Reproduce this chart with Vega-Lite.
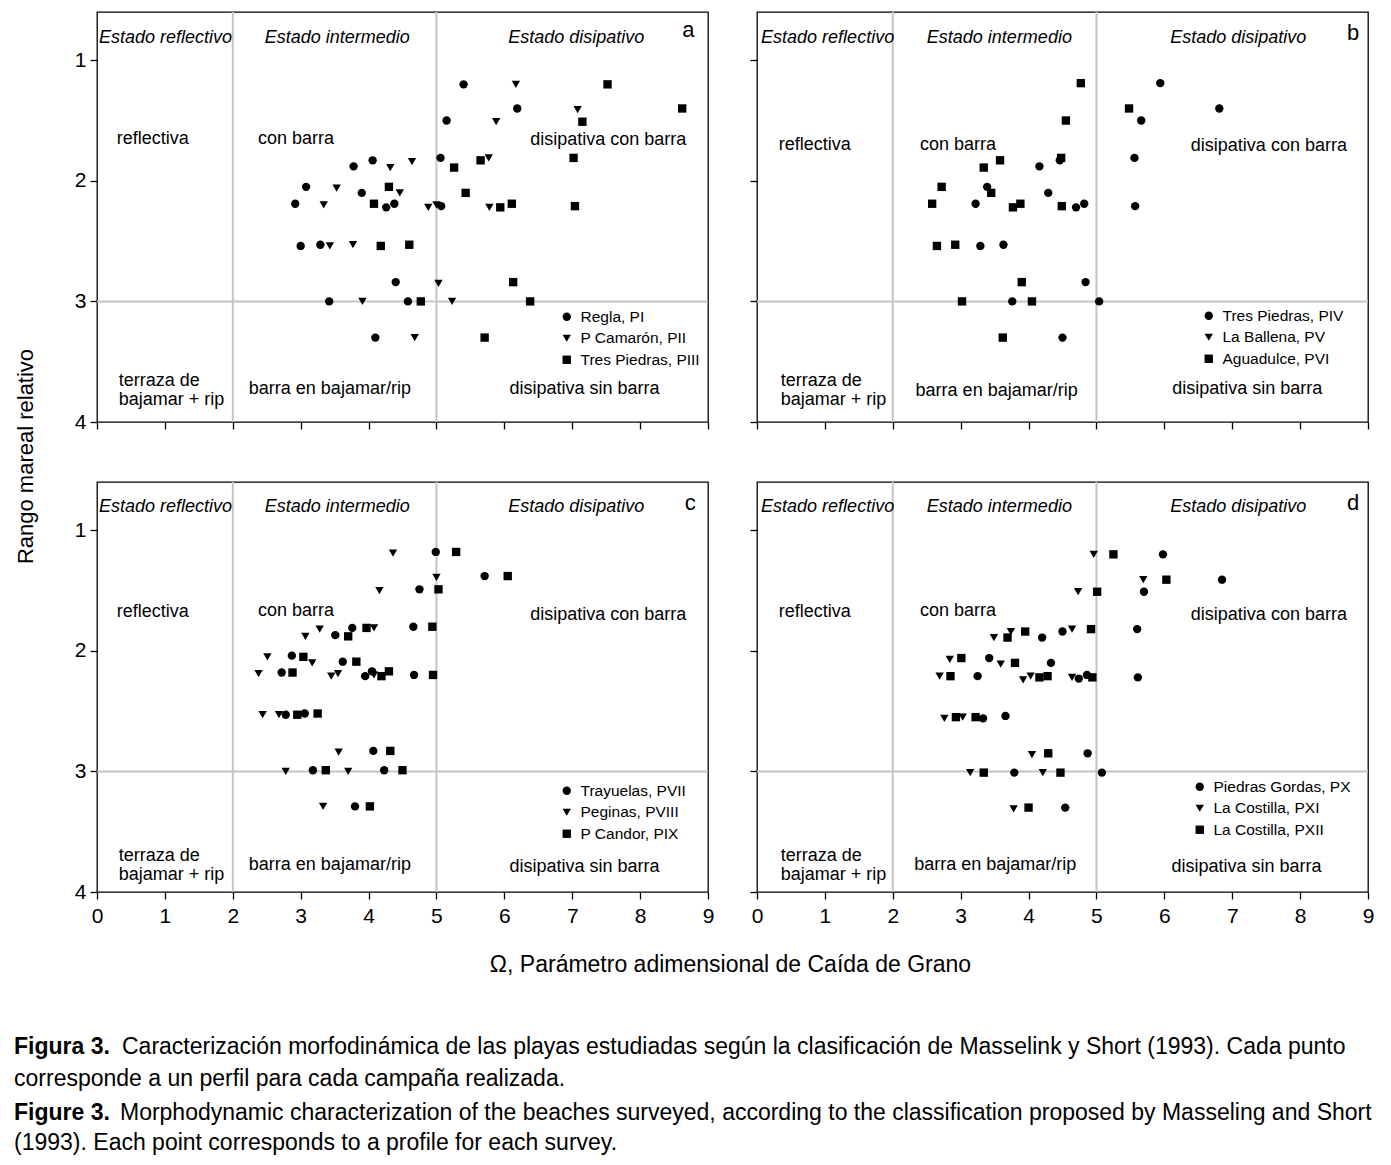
{
"$schema": "https://vega.github.io/schema/vega-lite/v6.json",
"padding": {"left": 13, "top": 10, "right": 5, "bottom": 5},
"datasets": {
"pts": [
{"p":"a","s":"Regla, PI","x":5.40,"y":1.20},{"p":"a","s":"Regla, PI","x":6.19,"y":1.40},{"p":"a","s":"Regla, PI","x":5.15,"y":1.50},{"p":"a","s":"Regla, PI","x":4.06,"y":1.83},{"p":"a","s":"Regla, PI","x":3.78,"y":1.88},{"p":"a","s":"Regla, PI","x":5.06,"y":1.81},{"p":"a","s":"Regla, PI","x":3.08,"y":2.05},{"p":"a","s":"Regla, PI","x":3.90,"y":2.10},{"p":"a","s":"Regla, PI","x":2.92,"y":2.19},{"p":"a","s":"Regla, PI","x":4.26,"y":2.22},{"p":"a","s":"Regla, PI","x":4.38,"y":2.19},{"p":"a","s":"Regla, PI","x":5.07,"y":2.21},{"p":"a","s":"Regla, PI","x":3.00,"y":2.54},{"p":"a","s":"Regla, PI","x":3.29,"y":2.53},{"p":"a","s":"Regla, PI","x":4.40,"y":2.84},{"p":"a","s":"Regla, PI","x":3.42,"y":3.00},{"p":"a","s":"Regla, PI","x":4.58,"y":3.00},{"p":"a","s":"Regla, PI","x":4.10,"y":3.30},
{"p":"a","s":"P Camarón, PII","x":6.17,"y":1.20},{"p":"a","s":"P Camarón, PII","x":7.08,"y":1.41},{"p":"a","s":"P Camarón, PII","x":5.88,"y":1.51},{"p":"a","s":"P Camarón, PII","x":4.64,"y":1.84},{"p":"a","s":"P Camarón, PII","x":4.32,"y":1.89},{"p":"a","s":"P Camarón, PII","x":5.77,"y":1.81},{"p":"a","s":"P Camarón, PII","x":3.53,"y":2.06},{"p":"a","s":"P Camarón, PII","x":4.46,"y":2.10},{"p":"a","s":"P Camarón, PII","x":3.34,"y":2.20},{"p":"a","s":"P Camarón, PII","x":4.88,"y":2.22},{"p":"a","s":"P Camarón, PII","x":5.00,"y":2.20},{"p":"a","s":"P Camarón, PII","x":5.78,"y":2.22},{"p":"a","s":"P Camarón, PII","x":3.43,"y":2.54},{"p":"a","s":"P Camarón, PII","x":3.77,"y":2.53},{"p":"a","s":"P Camarón, PII","x":5.03,"y":2.85},{"p":"a","s":"P Camarón, PII","x":3.91,"y":3.00},{"p":"a","s":"P Camarón, PII","x":5.23,"y":3.00},{"p":"a","s":"P Camarón, PII","x":4.68,"y":3.30},
{"p":"a","s":"Tres Piedras, PIII","x":7.52,"y":1.20},{"p":"a","s":"Tres Piedras, PIII","x":8.62,"y":1.40},{"p":"a","s":"Tres Piedras, PIII","x":7.15,"y":1.51},{"p":"a","s":"Tres Piedras, PIII","x":5.65,"y":1.83},{"p":"a","s":"Tres Piedras, PIII","x":5.26,"y":1.89},{"p":"a","s":"Tres Piedras, PIII","x":7.02,"y":1.81},{"p":"a","s":"Tres Piedras, PIII","x":4.30,"y":2.05},{"p":"a","s":"Tres Piedras, PIII","x":5.43,"y":2.10},{"p":"a","s":"Tres Piedras, PIII","x":4.08,"y":2.19},{"p":"a","s":"Tres Piedras, PIII","x":5.94,"y":2.22},{"p":"a","s":"Tres Piedras, PIII","x":6.11,"y":2.19},{"p":"a","s":"Tres Piedras, PIII","x":7.04,"y":2.21},{"p":"a","s":"Tres Piedras, PIII","x":4.18,"y":2.54},{"p":"a","s":"Tres Piedras, PIII","x":4.60,"y":2.53},{"p":"a","s":"Tres Piedras, PIII","x":6.13,"y":2.84},{"p":"a","s":"Tres Piedras, PIII","x":4.77,"y":3.00},{"p":"a","s":"Tres Piedras, PIII","x":6.38,"y":3.00},{"p":"a","s":"Tres Piedras, PIII","x":5.71,"y":3.30},
{"p":"b","s":"Tres Piedras, PIV","x":5.94,"y":1.19},{"p":"b","s":"Tres Piedras, PIV","x":6.81,"y":1.40},{"p":"b","s":"Tres Piedras, PIV","x":5.66,"y":1.50},{"p":"b","s":"Tres Piedras, PIV","x":4.16,"y":1.88},{"p":"b","s":"Tres Piedras, PIV","x":4.46,"y":1.83},{"p":"b","s":"Tres Piedras, PIV","x":5.56,"y":1.81},{"p":"b","s":"Tres Piedras, PIV","x":3.39,"y":2.05},{"p":"b","s":"Tres Piedras, PIV","x":4.29,"y":2.10},{"p":"b","s":"Tres Piedras, PIV","x":3.22,"y":2.19},{"p":"b","s":"Tres Piedras, PIV","x":4.70,"y":2.22},{"p":"b","s":"Tres Piedras, PIV","x":4.82,"y":2.19},{"p":"b","s":"Tres Piedras, PIV","x":5.57,"y":2.21},{"p":"b","s":"Tres Piedras, PIV","x":3.29,"y":2.54},{"p":"b","s":"Tres Piedras, PIV","x":3.63,"y":2.53},{"p":"b","s":"Tres Piedras, PIV","x":4.84,"y":2.84},{"p":"b","s":"Tres Piedras, PIV","x":3.76,"y":3.00},{"p":"b","s":"Tres Piedras, PIV","x":5.04,"y":3.00},{"p":"b","s":"Tres Piedras, PIV","x":4.50,"y":3.30},
{"p":"b","s":"Aguadulce, PVI","x":4.77,"y":1.19},{"p":"b","s":"Aguadulce, PVI","x":5.48,"y":1.40},{"p":"b","s":"Aguadulce, PVI","x":4.55,"y":1.50},{"p":"b","s":"Aguadulce, PVI","x":3.58,"y":1.83},{"p":"b","s":"Aguadulce, PVI","x":3.34,"y":1.89},{"p":"b","s":"Aguadulce, PVI","x":4.48,"y":1.81},{"p":"b","s":"Aguadulce, PVI","x":2.72,"y":2.05},{"p":"b","s":"Aguadulce, PVI","x":3.45,"y":2.10},{"p":"b","s":"Aguadulce, PVI","x":2.58,"y":2.19},{"p":"b","s":"Aguadulce, PVI","x":3.77,"y":2.22},{"p":"b","s":"Aguadulce, PVI","x":3.88,"y":2.19},{"p":"b","s":"Aguadulce, PVI","x":4.49,"y":2.21},{"p":"b","s":"Aguadulce, PVI","x":2.65,"y":2.54},{"p":"b","s":"Aguadulce, PVI","x":2.92,"y":2.53},{"p":"b","s":"Aguadulce, PVI","x":3.90,"y":2.84},{"p":"b","s":"Aguadulce, PVI","x":3.02,"y":3.00},{"p":"b","s":"Aguadulce, PVI","x":4.05,"y":3.00},{"p":"b","s":"Aguadulce, PVI","x":3.62,"y":3.30},
{"p":"c","s":"Trayuelas, PVII","x":4.99,"y":1.18},{"p":"c","s":"Trayuelas, PVII","x":5.71,"y":1.38},{"p":"c","s":"Trayuelas, PVII","x":4.75,"y":1.49},{"p":"c","s":"Trayuelas, PVII","x":3.76,"y":1.81},{"p":"c","s":"Trayuelas, PVII","x":3.51,"y":1.87},{"p":"c","s":"Trayuelas, PVII","x":4.66,"y":1.80},{"p":"c","s":"Trayuelas, PVII","x":2.87,"y":2.04},{"p":"c","s":"Trayuelas, PVII","x":3.62,"y":2.09},{"p":"c","s":"Trayuelas, PVII","x":2.72,"y":2.18},{"p":"c","s":"Trayuelas, PVII","x":3.95,"y":2.21},{"p":"c","s":"Trayuelas, PVII","x":4.05,"y":2.17},{"p":"c","s":"Trayuelas, PVII","x":4.67,"y":2.20},{"p":"c","s":"Trayuelas, PVII","x":2.78,"y":2.53},{"p":"c","s":"Trayuelas, PVII","x":3.06,"y":2.52},{"p":"c","s":"Trayuelas, PVII","x":4.07,"y":2.83},{"p":"c","s":"Trayuelas, PVII","x":3.18,"y":2.99},{"p":"c","s":"Trayuelas, PVII","x":4.23,"y":2.99},{"p":"c","s":"Trayuelas, PVII","x":3.80,"y":3.29},
{"p":"c","s":"Peginas, PVIII","x":4.36,"y":1.19},{"p":"c","s":"Peginas, PVIII","x":5.00,"y":1.39},{"p":"c","s":"Peginas, PVIII","x":4.16,"y":1.50},{"p":"c","s":"Peginas, PVIII","x":3.28,"y":1.82},{"p":"c","s":"Peginas, PVIII","x":3.07,"y":1.88},{"p":"c","s":"Peginas, PVIII","x":4.08,"y":1.81},{"p":"c","s":"Peginas, PVIII","x":2.51,"y":2.05},{"p":"c","s":"Peginas, PVIII","x":3.17,"y":2.10},{"p":"c","s":"Peginas, PVIII","x":2.38,"y":2.19},{"p":"c","s":"Peginas, PVIII","x":3.45,"y":2.21},{"p":"c","s":"Peginas, PVIII","x":3.55,"y":2.19},{"p":"c","s":"Peginas, PVIII","x":4.08,"y":2.20},{"p":"c","s":"Peginas, PVIII","x":2.44,"y":2.53},{"p":"c","s":"Peginas, PVIII","x":2.68,"y":2.53},{"p":"c","s":"Peginas, PVIII","x":3.56,"y":2.84},{"p":"c","s":"Peginas, PVIII","x":2.78,"y":3.00},{"p":"c","s":"Peginas, PVIII","x":3.70,"y":3.00},{"p":"c","s":"Peginas, PVIII","x":3.33,"y":3.29},
{"p":"c","s":"P Candor, PIX","x":5.29,"y":1.18},{"p":"c","s":"P Candor, PIX","x":6.05,"y":1.38},{"p":"c","s":"P Candor, PIX","x":5.03,"y":1.49},{"p":"c","s":"P Candor, PIX","x":3.97,"y":1.81},{"p":"c","s":"P Candor, PIX","x":3.70,"y":1.88},{"p":"c","s":"P Candor, PIX","x":4.94,"y":1.80},{"p":"c","s":"P Candor, PIX","x":3.04,"y":2.05},{"p":"c","s":"P Candor, PIX","x":3.82,"y":2.09},{"p":"c","s":"P Candor, PIX","x":2.88,"y":2.18},{"p":"c","s":"P Candor, PIX","x":4.19,"y":2.21},{"p":"c","s":"P Candor, PIX","x":4.30,"y":2.17},{"p":"c","s":"P Candor, PIX","x":4.95,"y":2.20},{"p":"c","s":"P Candor, PIX","x":2.95,"y":2.53},{"p":"c","s":"P Candor, PIX","x":3.25,"y":2.52},{"p":"c","s":"P Candor, PIX","x":4.32,"y":2.83},{"p":"c","s":"P Candor, PIX","x":3.37,"y":2.99},{"p":"c","s":"P Candor, PIX","x":4.50,"y":2.99},{"p":"c","s":"P Candor, PIX","x":4.02,"y":3.29},
{"p":"d","s":"Piedras Gordas, PX","x":5.98,"y":1.20},{"p":"d","s":"Piedras Gordas, PX","x":6.85,"y":1.41},{"p":"d","s":"Piedras Gordas, PX","x":5.70,"y":1.51},{"p":"d","s":"Piedras Gordas, PX","x":4.20,"y":1.89},{"p":"d","s":"Piedras Gordas, PX","x":4.50,"y":1.84},{"p":"d","s":"Piedras Gordas, PX","x":5.60,"y":1.82},{"p":"d","s":"Piedras Gordas, PX","x":3.42,"y":2.06},{"p":"d","s":"Piedras Gordas, PX","x":4.33,"y":2.10},{"p":"d","s":"Piedras Gordas, PX","x":3.25,"y":2.21},{"p":"d","s":"Piedras Gordas, PX","x":4.74,"y":2.23},{"p":"d","s":"Piedras Gordas, PX","x":4.86,"y":2.20},{"p":"d","s":"Piedras Gordas, PX","x":5.61,"y":2.22},{"p":"d","s":"Piedras Gordas, PX","x":3.33,"y":2.56},{"p":"d","s":"Piedras Gordas, PX","x":3.66,"y":2.54},{"p":"d","s":"Piedras Gordas, PX","x":4.87,"y":2.85},{"p":"d","s":"Piedras Gordas, PX","x":3.79,"y":3.01},{"p":"d","s":"Piedras Gordas, PX","x":5.08,"y":3.01},{"p":"d","s":"Piedras Gordas, PX","x":4.54,"y":3.30},
{"p":"d","s":"La Costilla, PXI","x":4.96,"y":1.20},{"p":"d","s":"La Costilla, PXI","x":5.69,"y":1.41},{"p":"d","s":"La Costilla, PXI","x":4.73,"y":1.51},{"p":"d","s":"La Costilla, PXI","x":3.49,"y":1.89},{"p":"d","s":"La Costilla, PXI","x":3.74,"y":1.84},{"p":"d","s":"La Costilla, PXI","x":4.64,"y":1.82},{"p":"d","s":"La Costilla, PXI","x":2.84,"y":2.07},{"p":"d","s":"La Costilla, PXI","x":3.59,"y":2.11},{"p":"d","s":"La Costilla, PXI","x":2.69,"y":2.21},{"p":"d","s":"La Costilla, PXI","x":3.92,"y":2.24},{"p":"d","s":"La Costilla, PXI","x":4.03,"y":2.21},{"p":"d","s":"La Costilla, PXI","x":4.64,"y":2.22},{"p":"d","s":"La Costilla, PXI","x":2.76,"y":2.56},{"p":"d","s":"La Costilla, PXI","x":3.03,"y":2.55},{"p":"d","s":"La Costilla, PXI","x":4.05,"y":2.86},{"p":"d","s":"La Costilla, PXI","x":3.14,"y":3.01},{"p":"d","s":"La Costilla, PXI","x":4.21,"y":3.01},{"p":"d","s":"La Costilla, PXI","x":3.78,"y":3.31},
{"p":"d","s":"La Costilla, PXII","x":5.25,"y":1.20},{"p":"d","s":"La Costilla, PXII","x":6.03,"y":1.41},{"p":"d","s":"La Costilla, PXII","x":5.01,"y":1.51},{"p":"d","s":"La Costilla, PXII","x":3.69,"y":1.89},{"p":"d","s":"La Costilla, PXII","x":3.95,"y":1.84},{"p":"d","s":"La Costilla, PXII","x":4.92,"y":1.82},{"p":"d","s":"La Costilla, PXII","x":3.01,"y":2.06},{"p":"d","s":"La Costilla, PXII","x":3.80,"y":2.10},{"p":"d","s":"La Costilla, PXII","x":2.85,"y":2.21},{"p":"d","s":"La Costilla, PXII","x":4.16,"y":2.22},{"p":"d","s":"La Costilla, PXII","x":4.28,"y":2.21},{"p":"d","s":"La Costilla, PXII","x":4.94,"y":2.22},{"p":"d","s":"La Costilla, PXII","x":2.93,"y":2.55},{"p":"d","s":"La Costilla, PXII","x":3.22,"y":2.55},{"p":"d","s":"La Costilla, PXII","x":4.29,"y":2.85},{"p":"d","s":"La Costilla, PXII","x":3.34,"y":3.01},{"p":"d","s":"La Costilla, PXII","x":4.47,"y":3.01},{"p":"d","s":"La Costilla, PXII","x":4.00,"y":3.30}
]
},
"concat": [
{
"width": 611, "height": 410,
"data": {"values": [{}]},
"layer": [
{"mark": {"type": "rule", "color": "#c4c4c4", "strokeWidth": 2}, "encoding": {"x": {"datum": 2, "type": "quantitative"}}},
{"mark": {"type": "rule", "color": "#c4c4c4", "strokeWidth": 2}, "encoding": {"x": {"datum": 5, "type": "quantitative"}}},
{"mark": {"type": "rule", "color": "#c4c4c4", "strokeWidth": 2}, "encoding": {"y": {"datum": 3, "type": "quantitative"}}},
{"mark": {"type": "text", "fontSize": 18, "fontStyle": "italic"}, "encoding": {"x": {"datum": 1.01}, "y": {"datum": 0.815}, "text": {"value": "Estado reflectivo"}}},
{"mark": {"type": "text", "fontSize": 18, "fontStyle": "italic"}, "encoding": {"x": {"datum": 3.54}, "y": {"datum": 0.815}, "text": {"value": "Estado intermedio"}}},
{"mark": {"type": "text", "fontSize": 18, "fontStyle": "italic"}, "encoding": {"x": {"datum": 7.06}, "y": {"datum": 0.815}, "text": {"value": "Estado disipativo"}}},
{"mark": {"type": "text", "fontSize": 22}, "encoding": {"x": {"datum": 8.71}, "y": {"datum": 0.75}, "text": {"value": "a"}}},
{"mark": {"type": "text", "fontSize": 18}, "encoding": {"x": {"datum": 0.82}, "y": {"datum": 1.65}, "text": {"value": "reflectiva"}}},
{"mark": {"type": "text", "fontSize": 18}, "encoding": {"x": {"datum": 2.93}, "y": {"datum": 1.65}, "text": {"value": "con barra"}}},
{"mark": {"type": "text", "fontSize": 18}, "encoding": {"x": {"datum": 7.53}, "y": {"datum": 1.66}, "text": {"value": "disipativa con barra"}}},
{"mark": {"type": "text", "fontSize": 18, "align": "left", "lineHeight": 19}, "encoding": {"x": {"datum": 0.32}, "y": {"datum": 3.66}, "text": {"value": ["terraza de", "bajamar + rip"]}}},
{"mark": {"type": "text", "fontSize": 18}, "encoding": {"x": {"datum": 3.43}, "y": {"datum": 3.73}, "text": {"value": "barra en bajamar/rip"}}},
{"mark": {"type": "text", "fontSize": 18}, "encoding": {"x": {"datum": 7.18}, "y": {"datum": 3.73}, "text": {"value": "disipativa sin barra"}}},
{"data": {"name": "pts"}, "transform": [{"filter": "datum.p == 'a'"}],
 "mark": {"type": "point", "filled": true, "color": "black", "opacity": 1, "size": 70},
 "encoding": {
  "x": {"field": "x", "type": "quantitative", "scale": {"domain": [0, 9], "nice": false, "zero": false}, "axis": {"values": [0,1,2,3,4,5,6,7,8,9], "labels": false, "title": null}},
  "y": {"field": "y", "type": "quantitative", "scale": {"domain": [0.6, 4], "nice": false, "zero": false, "reverse": true}, "axis": {"values": [1,2,3,4], "format": "d", "labelFontSize": 21, "title": "Rango mareal relativo", "titleFontSize": 22, "titleFontWeight": "normal", "titleX": -72, "titleY": 444, "titleAngle": 270, "titleAlign": "center", "titleBaseline": "middle"}},
  "shape": {"field": "s", "type": "nominal", "scale": {"domain": ["Regla, PI", "P Camarón, PII", "Tres Piedras, PIII"], "range": ["circle", "triangle-down", "square"]}, "legend": {"title": null, "orient": "none", "legendX": 462, "legendY": 297}}
 }}
]
},
{
"width": 611, "height": 410,
"data": {"values": [{}]},
"layer": [
{"mark": {"type": "rule", "color": "#c4c4c4", "strokeWidth": 2}, "encoding": {"x": {"datum": 2, "type": "quantitative"}}},
{"mark": {"type": "rule", "color": "#c4c4c4", "strokeWidth": 2}, "encoding": {"x": {"datum": 5, "type": "quantitative"}}},
{"mark": {"type": "rule", "color": "#c4c4c4", "strokeWidth": 2}, "encoding": {"y": {"datum": 3, "type": "quantitative"}}},
{"mark": {"type": "text", "fontSize": 18, "fontStyle": "italic"}, "encoding": {"x": {"datum": 1.04}, "y": {"datum": 0.815}, "text": {"value": "Estado reflectivo"}}},
{"mark": {"type": "text", "fontSize": 18, "fontStyle": "italic"}, "encoding": {"x": {"datum": 3.57}, "y": {"datum": 0.815}, "text": {"value": "Estado intermedio"}}},
{"mark": {"type": "text", "fontSize": 18, "fontStyle": "italic"}, "encoding": {"x": {"datum": 7.09}, "y": {"datum": 0.815}, "text": {"value": "Estado disipativo"}}},
{"mark": {"type": "text", "fontSize": 22}, "encoding": {"x": {"datum": 8.78}, "y": {"datum": 0.77}, "text": {"value": "b"}}},
{"mark": {"type": "text", "fontSize": 18}, "encoding": {"x": {"datum": 0.85}, "y": {"datum": 1.70}, "text": {"value": "reflectiva"}}},
{"mark": {"type": "text", "fontSize": 18}, "encoding": {"x": {"datum": 2.96}, "y": {"datum": 1.70}, "text": {"value": "con barra"}}},
{"mark": {"type": "text", "fontSize": 18}, "encoding": {"x": {"datum": 7.54}, "y": {"datum": 1.71}, "text": {"value": "disipativa con barra"}}},
{"mark": {"type": "text", "fontSize": 18, "align": "left", "lineHeight": 19}, "encoding": {"x": {"datum": 0.35}, "y": {"datum": 3.66}, "text": {"value": ["terraza de", "bajamar + rip"]}}},
{"mark": {"type": "text", "fontSize": 18}, "encoding": {"x": {"datum": 3.53}, "y": {"datum": 3.74}, "text": {"value": "barra en bajamar/rip"}}},
{"mark": {"type": "text", "fontSize": 18}, "encoding": {"x": {"datum": 7.22}, "y": {"datum": 3.73}, "text": {"value": "disipativa sin barra"}}},
{"data": {"name": "pts"}, "transform": [{"filter": "datum.p == 'b'"}],
 "mark": {"type": "point", "filled": true, "color": "black", "opacity": 1, "size": 70},
 "encoding": {
  "x": {"field": "x", "type": "quantitative", "scale": {"domain": [0, 9], "nice": false, "zero": false}, "axis": {"values": [0,1,2,3,4,5,6,7,8,9], "labels": false, "title": null}},
  "y": {"field": "y", "type": "quantitative", "scale": {"domain": [0.6, 4], "nice": false, "zero": false, "reverse": true}, "axis": {"values": [1,2,3,4], "labels": false, "title": null}},
  "shape": {"field": "s", "type": "nominal", "scale": {"domain": ["Tres Piedras, PIV", "La Ballena, PV", "Aguadulce, PVI"], "range": ["circle", "triangle-down", "square"]}, "legend": {"title": null, "orient": "none", "legendX": 444, "legendY": 296}}
 }}
]
},
{
"width": 611, "height": 410,
"data": {"values": [{}]},
"layer": [
{"mark": {"type": "rule", "color": "#c4c4c4", "strokeWidth": 2}, "encoding": {"x": {"datum": 2, "type": "quantitative"}}},
{"mark": {"type": "rule", "color": "#c4c4c4", "strokeWidth": 2}, "encoding": {"x": {"datum": 5, "type": "quantitative"}}},
{"mark": {"type": "rule", "color": "#c4c4c4", "strokeWidth": 2}, "encoding": {"y": {"datum": 3, "type": "quantitative"}}},
{"mark": {"type": "text", "fontSize": 18, "fontStyle": "italic"}, "encoding": {"x": {"datum": 1.01}, "y": {"datum": 0.81}, "text": {"value": "Estado reflectivo"}}},
{"mark": {"type": "text", "fontSize": 18, "fontStyle": "italic"}, "encoding": {"x": {"datum": 3.54}, "y": {"datum": 0.81}, "text": {"value": "Estado intermedio"}}},
{"mark": {"type": "text", "fontSize": 18, "fontStyle": "italic"}, "encoding": {"x": {"datum": 7.06}, "y": {"datum": 0.81}, "text": {"value": "Estado disipativo"}}},
{"mark": {"type": "text", "fontSize": 22}, "encoding": {"x": {"datum": 8.74}, "y": {"datum": 0.77}, "text": {"value": "c"}}},
{"mark": {"type": "text", "fontSize": 18}, "encoding": {"x": {"datum": 0.82}, "y": {"datum": 1.68}, "text": {"value": "reflectiva"}}},
{"mark": {"type": "text", "fontSize": 18}, "encoding": {"x": {"datum": 2.93}, "y": {"datum": 1.67}, "text": {"value": "con barra"}}},
{"mark": {"type": "text", "fontSize": 18}, "encoding": {"x": {"datum": 7.53}, "y": {"datum": 1.70}, "text": {"value": "disipativa con barra"}}},
{"mark": {"type": "text", "fontSize": 18, "align": "left", "lineHeight": 19}, "encoding": {"x": {"datum": 0.32}, "y": {"datum": 3.70}, "text": {"value": ["terraza de", "bajamar + rip"]}}},
{"mark": {"type": "text", "fontSize": 18}, "encoding": {"x": {"datum": 3.43}, "y": {"datum": 3.78}, "text": {"value": "barra en bajamar/rip"}}},
{"mark": {"type": "text", "fontSize": 18}, "encoding": {"x": {"datum": 7.18}, "y": {"datum": 3.79}, "text": {"value": "disipativa sin barra"}}},
{"data": {"name": "pts"}, "transform": [{"filter": "datum.p == 'c'"}],
 "mark": {"type": "point", "filled": true, "color": "black", "opacity": 1, "size": 70},
 "encoding": {
  "x": {"field": "x", "type": "quantitative", "scale": {"domain": [0, 9], "nice": false, "zero": false}, "axis": {"values": [0,1,2,3,4,5,6,7,8,9], "format": "d", "labelFontSize": 21, "labelPadding": 6, "title": "Ω, Parámetro adimensional de Caída de Grano", "titleFontSize": 23, "titleFontWeight": "normal", "titleX": 633, "titleY": 72, "titleAlign": "center", "titleBaseline": "middle"}},
  "y": {"field": "y", "type": "quantitative", "scale": {"domain": [0.6, 4], "nice": false, "zero": false, "reverse": true}, "axis": {"values": [1,2,3,4], "format": "d", "labelFontSize": 21, "title": null}},
  "shape": {"field": "s", "type": "nominal", "scale": {"domain": ["Trayuelas, PVII", "Peginas, PVIII", "P Candor, PIX"], "range": ["circle", "triangle-down", "square"]}, "legend": {"title": null, "orient": "none", "legendX": 462, "legendY": 301}}
 }}
]
},
{
"width": 611, "height": 410,
"data": {"values": [{}]},
"layer": [
{"mark": {"type": "rule", "color": "#c4c4c4", "strokeWidth": 2}, "encoding": {"x": {"datum": 2, "type": "quantitative"}}},
{"mark": {"type": "rule", "color": "#c4c4c4", "strokeWidth": 2}, "encoding": {"x": {"datum": 5, "type": "quantitative"}}},
{"mark": {"type": "rule", "color": "#c4c4c4", "strokeWidth": 2}, "encoding": {"y": {"datum": 3, "type": "quantitative"}}},
{"mark": {"type": "text", "fontSize": 18, "fontStyle": "italic"}, "encoding": {"x": {"datum": 1.04}, "y": {"datum": 0.81}, "text": {"value": "Estado reflectivo"}}},
{"mark": {"type": "text", "fontSize": 18, "fontStyle": "italic"}, "encoding": {"x": {"datum": 3.57}, "y": {"datum": 0.81}, "text": {"value": "Estado intermedio"}}},
{"mark": {"type": "text", "fontSize": 18, "fontStyle": "italic"}, "encoding": {"x": {"datum": 7.09}, "y": {"datum": 0.81}, "text": {"value": "Estado disipativo"}}},
{"mark": {"type": "text", "fontSize": 22}, "encoding": {"x": {"datum": 8.78}, "y": {"datum": 0.77}, "text": {"value": "d"}}},
{"mark": {"type": "text", "fontSize": 18}, "encoding": {"x": {"datum": 0.85}, "y": {"datum": 1.68}, "text": {"value": "reflectiva"}}},
{"mark": {"type": "text", "fontSize": 18}, "encoding": {"x": {"datum": 2.96}, "y": {"datum": 1.67}, "text": {"value": "con barra"}}},
{"mark": {"type": "text", "fontSize": 18}, "encoding": {"x": {"datum": 7.54}, "y": {"datum": 1.70}, "text": {"value": "disipativa con barra"}}},
{"mark": {"type": "text", "fontSize": 18, "align": "left", "lineHeight": 19}, "encoding": {"x": {"datum": 0.35}, "y": {"datum": 3.70}, "text": {"value": ["terraza de", "bajamar + rip"]}}},
{"mark": {"type": "text", "fontSize": 18}, "encoding": {"x": {"datum": 3.51}, "y": {"datum": 3.78}, "text": {"value": "barra en bajamar/rip"}}},
{"mark": {"type": "text", "fontSize": 18}, "encoding": {"x": {"datum": 7.21}, "y": {"datum": 3.79}, "text": {"value": "disipativa sin barra"}}},
{"data": {"name": "pts"}, "transform": [{"filter": "datum.p == 'd'"}],
 "mark": {"type": "point", "filled": true, "color": "black", "opacity": 1, "size": 70},
 "encoding": {
  "x": {"field": "x", "type": "quantitative", "scale": {"domain": [0, 9], "nice": false, "zero": false}, "axis": {"values": [0,1,2,3,4,5,6,7,8,9], "format": "d", "labelFontSize": 21, "labelPadding": 6, "title": null}},
  "y": {"field": "y", "type": "quantitative", "scale": {"domain": [0.6, 4], "nice": false, "zero": false, "reverse": true}, "axis": {"values": [1,2,3,4], "labels": false, "title": null}},
  "shape": {"field": "s", "type": "nominal", "scale": {"domain": ["Piedras Gordas, PX", "La Costilla, PXI", "La Costilla, PXII"], "range": ["circle", "triangle-down", "square"]}, "legend": {"title": null, "orient": "none", "legendX": 435, "legendY": 297}}
 }}
]
},
{
"width": 611, "height": 209,
"view": {"stroke": null},
"data": {"values": [{}]},
"encoding": {
 "x": {"type": "quantitative", "scale": {"domain": [0, 1], "nice": false, "zero": false}, "axis": null},
 "y": {"type": "quantitative", "scale": {"domain": [0, 6.742], "nice": false, "zero": false, "reverse": true}, "axis": null}
},
"layer": [
{"mark": {"type": "text", "fontSize": 23, "fontWeight": "bold", "align": "left"}, "encoding": {"x": {"datum": -0.1358}, "y": {"datum": 3.08}, "text": {"value": "Figura 3."}}},
{"mark": {"type": "text", "fontSize": 23, "align": "left"}, "encoding": {"x": {"datum": 0.0409}, "y": {"datum": 3.08}, "text": {"value": "Caracterización morfodinámica de las playas estudiadas según la clasificación de Masselink y Short (1993). Cada punto"}}},
{"mark": {"type": "text", "fontSize": 23, "align": "left"}, "encoding": {"x": {"datum": -0.1358}, "y": {"datum": 4.10}, "text": {"value": "corresponde a un perfil para cada campaña realizada."}}},
{"mark": {"type": "text", "fontSize": 23, "fontWeight": "bold", "align": "left"}, "encoding": {"x": {"datum": -0.1358}, "y": {"datum": 5.19}, "text": {"value": "Figure 3."}}},
{"mark": {"type": "text", "fontSize": 23, "align": "left"}, "encoding": {"x": {"datum": 0.0376}, "y": {"datum": 5.19}, "text": {"value": "Morphodynamic characterization of the beaches surveyed, according to the classification proposed by Masseling and Short"}}},
{"mark": {"type": "text", "fontSize": 23, "align": "left"}, "encoding": {"x": {"datum": -0.1358}, "y": {"datum": 6.16}, "text": {"value": "(1993). Each point corresponds to a profile for each survey."}}}
]
}
],
"columns": 2,
"spacing": {"row": 60, "column": 49},
"bounds": "flush",
"resolve": {"scale": {"shape": "independent", "x": "independent", "y": "independent"}, "legend": {"shape": "independent"}},
"config": {
 "font": "Liberation Sans",
 "background": "white",
 "view": {"stroke": "black", "strokeWidth": 1.3},
 "text": {"color": "black", "baseline": "middle"},
 "axis": {"domain": false, "grid": false, "ticks": true, "tickColor": "black", "tickSize": 7, "tickWidth": 1.3, "labelColor": "black", "labelPadding": 4, "titleColor": "black", "labelFlush": false, "labelOverlap": false},
 "legend": {"labelFontSize": 15.5, "labelColor": "black", "symbolSize": 70, "symbolFillColor": "black", "symbolStrokeColor": "black", "symbolStrokeWidth": 0, "rowPadding": 4.5, "labelOffset": 6, "padding": 0}
}
}
